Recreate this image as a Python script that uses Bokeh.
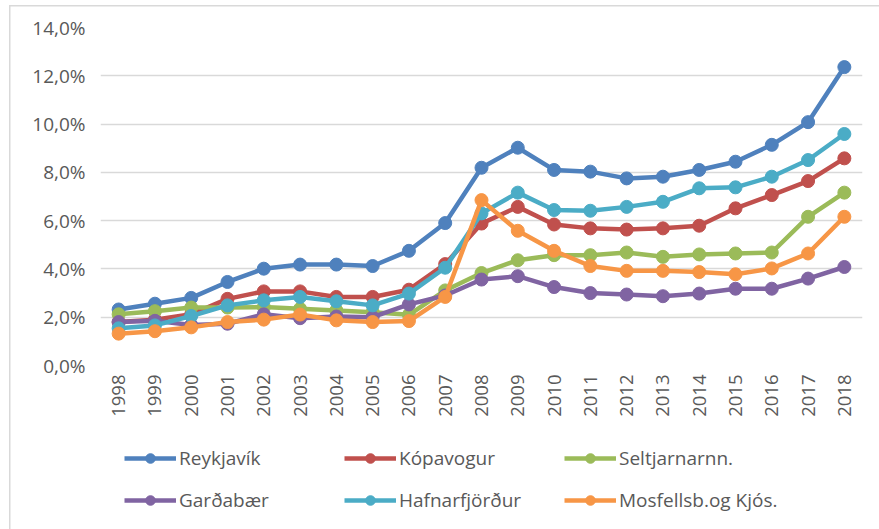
import math
from bokeh.plotting import figure
from bokeh.layouts import column
from bokeh.models import FactorRange, Range1d, FixedTicker, Legend, LegendItem
from bokeh.embed import file_html
from bokeh.resources import INLINE

years = [str(y) for y in range(1998, 2019)]

reykjavik = [2.32, 2.56, 2.80, 3.46, 4.01, 4.18, 4.18, 4.12, 4.75, 5.90, 8.19, 9.02, 8.10, 8.03, 7.75, 7.82, 8.10, 8.44, 9.14, 10.08, 12.36]
kopavogur = [1.80, 1.90, 2.12, 2.76, 3.07, 3.07, 2.84, 2.84, 3.14, 4.20, 5.88, 6.57, 5.84, 5.68, 5.63, 5.68, 5.79, 6.51, 7.06, 7.64, 8.58]
seltjarnarnes = [2.12, 2.25, 2.40, 2.40, 2.42, 2.35, 2.28, 2.21, 2.10, 3.11, 3.83, 4.36, 4.57, 4.57, 4.68, 4.50, 4.60, 4.64, 4.68, 6.16, 7.16]
gardabaer = [1.80, 1.85, 1.68, 1.73, 2.12, 1.96, 2.03, 2.00, 2.53, 2.90, 3.56, 3.70, 3.25, 3.00, 2.94, 2.87, 2.98, 3.18, 3.18, 3.60, 4.08]
hafnarfjordur = [1.54, 1.66, 2.05, 2.49, 2.70, 2.84, 2.66, 2.49, 2.98, 4.05, 6.30, 7.16, 6.44, 6.41, 6.57, 6.78, 7.34, 7.38, 7.82, 8.51, 9.59]
mosfellsbaer = [1.32, 1.42, 1.58, 1.80, 1.90, 2.11, 1.87, 1.80, 1.84, 2.84, 6.85, 5.58, 4.75, 4.12, 3.92, 3.92, 3.87, 3.78, 4.02, 4.64, 6.16]

series_names = ["Reykjavík", "Kópavogur", "Seltjarnarnn.", "Garðabær", "Hafnarfjörður", "Mosfellsb.og Kjós."]
series_values = [reykjavik, kopavogur, seltjarnarnes, gardabaer, hafnarfjordur, mosfellsbaer]
series_colors = ["#4F81BD", "#C0504D", "#9BBB59", "#8064A2", "#4BACC6", "#F79646"]

y_tick_values = [0, 2, 4, 6, 8, 10, 12, 14]
y_tick_labels = ["0,0%", "2,0%", "4,0%", "6,0%", "8,0%", "10,0%", "12,0%", "14,0%"]

FONT = "Open Sans"
TXT = "#595959"

# ---------------- main chart ----------------
p = figure(
    x_range=FactorRange(factors=years, range_padding=0, factor_padding=0),
    y_range=Range1d(0, 14),
    frame_width=762, frame_height=338,
    min_border_left=100, min_border_right=17, min_border_top=27, min_border_bottom=67,
    output_backend="svg", toolbar_location=None,
)
p.outline_line_color = None
p.background_fill_color = "white"
p.border_fill_color = None
p.styles = {"box-shadow": "inset 9px 5px 0 0 white, inset 10.5px 6.5px 0 0 #d9d9d9",
            "background-color": "white"}

p.xgrid.grid_line_color = None
p.ygrid.grid_line_color = "#d9d9d9"
p.ygrid.grid_line_width = 1.5

p.yaxis.ticker = FixedTicker(ticks=y_tick_values)
p.yaxis.major_label_overrides = {v: l for v, l in zip(y_tick_values, y_tick_labels)}
p.yaxis.axis_line_color = None
p.yaxis.major_tick_line_color = None
p.yaxis.major_tick_out = 0
p.yaxis.major_tick_in = 0
p.yaxis.minor_tick_line_color = None
p.yaxis.major_label_standoff = 15
p.yaxis.major_label_text_font = FONT
p.yaxis.major_label_text_font_size = "19px"
p.yaxis.major_label_text_color = TXT

p.xaxis.axis_line_color = None
p.xaxis.major_tick_line_color = None
p.xaxis.major_tick_out = 0
p.xaxis.major_tick_in = 0
p.xaxis.minor_tick_line_color = None
p.xaxis.major_label_orientation = math.pi / 2
p.xaxis.major_label_standoff = 9
p.xaxis.major_label_text_font = FONT
p.xaxis.major_label_text_font_size = "18.5px"
p.xaxis.major_label_text_color = TXT

for vals, col in zip(series_values, series_colors):
    p.line(x=years, y=vals, line_color=col, line_width=4.5)
    p.scatter(x=years, y=vals, size=13, fill_color=col, line_color=col)

# ---------------- legend strip ----------------
q = figure(
    x_range=FactorRange(factors=years), y_range=Range1d(100, 101),
    width=879, height=97, min_border=0,
    x_axis_type=None, y_axis_type=None,
    output_backend="svg", toolbar_location=None,
)
q.outline_line_color = None
q.grid.grid_line_color = None
q.background_fill_color = None
q.border_fill_color = None
q.styles = {"box-shadow": "inset 9px 0 0 0 white, inset 10.5px 0 0 0 #d9d9d9",
            "background-color": "white"}

items = []
for name, vals, col in zip(series_names, series_values, series_colors):
    ln = q.line(x=years, y=vals, line_color=col, line_width=4.5)
    sc = q.scatter(x=years, y=vals, size=13, fill_color=col, line_color=col)
    items.append(LegendItem(label=name, renderers=[ln, sc]))

common = dict(orientation="horizontal", glyph_width=52, glyph_height=24, label_height=24,
              label_width=165, label_standoff=3, spacing=0, padding=0, margin=0,
              border_line_color=None, background_fill_alpha=0,
              label_text_font=FONT, label_text_font_size="19px", label_text_color=TXT)
q.add_layout(Legend(items=items[:3], location=(24, 58), **common))
q.add_layout(Legend(items=items[3:], location=(24, 16), **common))

layout = column(p, q, spacing=0)
open("out.html", "w").write(file_html(layout, INLINE))
